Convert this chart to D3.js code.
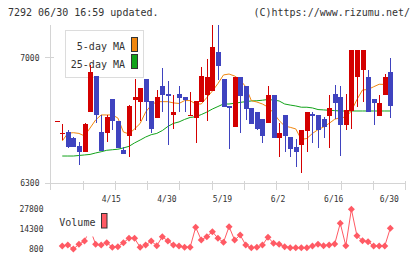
<!DOCTYPE html>
<html>
<head>
<meta charset="utf-8">
<script src="https://cdn.jsdelivr.net/npm/d3@7"></script>
<style>
  body { margin: 0; background: #fff; }
  svg { display: block; }
  text { font-family: "DejaVu Sans Mono", "Liberation Mono", monospace; fill: #333; }
</style>
</head>
<body>
<svg id="chart" width="420" height="259"></svg>
<script>
// daily candles
var open = [6650, 6580, 6585, 6550, 6510, 6475, 6695, 6900, 6585, 6580,
            6770, 6645, 6485, 6565, 6765, 6755, 6880, 6760, 6665, 6840,
            6800, 6680, 6800, 6780, 6675, 6665, 6755, 6790, 6815, 7030,
            6880, 6730, 6615, 6890, 6840, 6720, 6695, 6660, 6635, 6790,
            6555, 6680, 6560, 6500, 6515, 6590, 6685, 6680, 6660, 6675,
            6800, 6780, 6625, 6705, 6890, 6930, 6890, 6770, 6675, 6790,
            6920];
var close = [6650, 6580, 6505, 6505, 6475, 6630, 6920, 6680, 6480, 6670,
             6645, 6495, 6465, 6730, 6780, 6830, 6755, 6605, 6780, 6790,
             6785, 6695, 6775, 6765, 6680, 6760, 6900, 6890, 7060, 6955,
             6725, 6720, 6890, 6785, 6715, 6630, 6605, 6565, 6790, 6555,
             6580, 6565, 6490, 6475, 6595, 6695, 6675, 6595, 6615, 6720,
             6745, 6625, 6710, 7045, 7045, 7045, 6695, 6745, 6745, 6890,
             6730];
var high = [6650, 6630, 6595, 6560, 6530, 6635, 6960, 6900, 6680, 6680,
            6770, 6645, 6505, 6735, 6880, 6830, 6880, 6760, 6820, 6940,
            6870, 6790, 6840, 6780, 6810, 6760, 6950, 6995, 7180, 7180,
            6880, 6730, 6895, 6895, 6840, 6720, 6695, 6660, 6840, 6790,
            6635, 6680, 6560, 6545, 6595, 6695, 6695, 6680, 6670, 6790,
            6850, 6840, 6800, 7045, 7045, 7045, 6930, 6770, 6790, 6910,
            7000];
var low = [6650, 6540, 6495, 6500, 6400, 6475, 6695, 6635, 6480, 6530,
           6595, 6495, 6465, 6445, 6595, 6645, 6645, 6580, 6665, 6695,
           6515, 6605, 6695, 6695, 6675, 6525, 6755, 6645, 6815, 6875,
           6725, 6490, 6615, 6580, 6655, 6630, 6595, 6525, 6635, 6555,
           6445, 6475, 6445, 6390, 6355, 6475, 6525, 6495, 6555, 6495,
           6660, 6450, 6595, 6605, 6725, 6755, 6695, 6625, 6675, 6790,
           6665];

// moving averages as drawn
var ma5 = [null, 6536, 6579, 6582, 6578, 6564, 6608, 6653, 6681, 6681,
           6681, 6664, 6586, 6575, 6603, 6633, 6697, 6736, 6755, 6755,
           6755, 6748, 6745, 6761, 6761, 6742, 6742, 6778, 6814, 6856,
           6904, 6909, 6898, 6876, 6838, 6761, 6753, 6742, 6725, 6692,
           6650, 6619, 6612, 6603, 6544, 6550, 6578, 6599, 6614, 6634,
           6657, 6666, 6668, 6703, 6767, 6820, 6823, 6838, 6852, 6851,
           6831];
var ma25 = [null, 6452, 6452, 6452, 6455, 6458, 6461, 6469, 6476, 6484,
            6487, 6490, 6497, 6506, 6525, 6541, 6558, 6571, 6578, 6594,
            6617, 6634, 6642, 6656, 6667, 6671, 6683, 6697, 6714, 6728,
            6742, 6742, 6746, 6751, 6755, 6759, 6760, 6763, 6767, 6764,
            6759, 6742, 6736, 6731, 6724, 6724, 6720, 6711, 6709, 6707,
            6705, 6703, 6703, 6703, 6703, 6703, 6703, 6703, 6703, 6703,
            6703];

var volume = [null, 2800, 3500, 800, 4000, 6200, 14500, 4000, 3500, 5100,
              2000, 2400, 5100, 8100, 8100, 2000, 3500, 6200, 3000, 9200,
              6200, 3500, 2800, 2000, 2000, 15600, 6900, 9200, 12600, 8100,
              5400, 16000, 6900, 10300, 3500, 1700, 2000, 3500, 8800, 4700,
              4000, 2400, 1700, 1700, 1700, 1700, 2800, 4000, 3000, 3500,
              4200, 18300, 3000, 27800, 9800, 6400, 5800, 2800, 2800, 2800,
              14900];

var priceTicks = [6300, 7000];
var volTicks = [800, 14300, 27800];
var dateLabels = ["4/15", "4/30", "5/19", "6/2", "6/16", "6/30"];
var dateIdx = [10, 20, 30, 40, 50, 60];

var upColor = "#d40000", downColor = "#3f43bf";
var ma5Color = "#f0870f", ma25Color = "#12a31a";
var volColor = "#ff5a64", axisColor = "#d4d4d4";

var svg = d3.select("#chart");

var x = d3.scaleLinear().domain([0, open.length - 1]).range([56.7, 390.3]);
var y = d3.scaleLinear().domain([6300, 7000]).range([183.3, 57.7]);
var yv = d3.scaleLinear().domain([800, 27800]).range([249, 209.3]);
// plain grid ticks along the bottom, not tied to dates
var xt = d3.scaleLinear().domain([0, 11]).range([50.5, 405]);

// header texts
svg.append("text").attr("x", 8).attr("y", 16).style("font-size", "10px")
    .text("7292 06/30 16:59 updated.");
svg.append("text").attr("x", 410).attr("y", 16).attr("text-anchor", "end")
    .style("font-size", "10px").text("(C)https://www.rizumu.net/");

// axes
var axisG = svg.append("g").attr("shape-rendering", "crispEdges");
axisG.append("line").attr("x1", 50.5).attr("x2", 50.5).attr("y1", 25).attr("y2", 190)
    .attr("stroke", axisColor);
axisG.append("line").attr("x1", 50).attr("x2", xt(11)).attr("y1", y(6300)).attr("y2", y(6300))
    .attr("stroke", axisColor);
axisG.selectAll(".xtick").data(d3.range(1, 12)).enter().append("line")
    .attr("x1", d => Math.round(xt(d)) + 0.5).attr("x2", d => Math.round(xt(d)) + 0.5)
    .attr("y1", 181).attr("y2", 190).attr("stroke", axisColor);
axisG.selectAll(".ytick").data(priceTicks).enter().append("line")
    .attr("x1", 45).attr("x2", 54).attr("y1", d => y(d)).attr("y2", d => y(d))
    .attr("stroke", axisColor);

svg.selectAll(".plabel").data(priceTicks).enter().append("text")
    .attr("x", 39.5).attr("y", d => y(d) + 3).attr("text-anchor", "end")
    .style("font-size", "8px").text(d => d);

svg.selectAll(".dlabel").data(dateLabels).enter().append("text")
    .attr("x", (d, i) => x(dateIdx[i]) - 1).attr("y", 201.5).attr("text-anchor", "middle")
    .style("font-size", "8px").text(d => d);

// price legend (drawn first, candles sit over it)
var leg = svg.append("g");
leg.append("rect").attr("x", 65.5).attr("y", 30.5).attr("width", 78).attr("height", 47)
    .attr("fill", "#fff").attr("stroke", "#dcdcdc");
leg.append("text").attr("x", 125).attr("y", 50).attr("text-anchor", "end")
    .style("font-size", "10px").text("5-day MA");
leg.append("text").attr("x", 125).attr("y", 67.5).attr("text-anchor", "end")
    .style("font-size", "10px").text("25-day MA");
leg.append("rect").attr("x", 131.5).attr("y", 37.5).attr("width", 6).attr("height", 14)
    .attr("fill", ma5Color).attr("stroke", "#333");
leg.append("rect").attr("x", 131.5).attr("y", 54.5).attr("width", 6).attr("height", 14)
    .attr("fill", ma25Color).attr("stroke", "#333");

// moving averages
var maLine = d3.line().defined(d => d != null).x((d, i) => x(i)).y(d => y(d));
svg.append("path").datum(ma25).attr("d", maLine).attr("fill", "none")
    .attr("stroke", ma25Color).attr("stroke-width", 1);
svg.append("path").datum(ma5).attr("d", maLine).attr("fill", "none")
    .attr("stroke", ma5Color).attr("stroke-width", 1);

// candles
var candles = svg.append("g").attr("shape-rendering", "crispEdges")
    .selectAll("g").data(open).enter().append("g");
var col = (d, i) => close[i] >= open[i] ? upColor : downColor;
candles.append("line")
    .attr("x1", (d, i) => Math.round(x(i)) + 0.5).attr("x2", (d, i) => Math.round(x(i)) + 0.5)
    .attr("y1", (d, i) => y(high[i])).attr("y2", (d, i) => y(low[i]))
    .attr("stroke", col);
candles.append("rect")
    .attr("x", (d, i) => Math.round(x(i)) - 2)
    .attr("width", 5)
    .attr("y", (d, i) => y(Math.max(open[i], close[i])))
    .attr("height", (d, i) => Math.max(1, Math.abs(y(open[i]) - y(close[i]))))
    .attr("fill", col);

// volume
var vLine = d3.line().defined(d => d != null).x((d, i) => x(i)).y(d => yv(d));
svg.append("path").datum(volume).attr("d", vLine).attr("fill", "none")
    .attr("stroke", volColor).attr("stroke-width", 1);
svg.selectAll(".vpt").data(volume.map((v, i) => [i, v]).filter(d => d[1] != null))
    .enter().append("path")
    .attr("transform", d => "translate(" + x(d[0]) + "," + yv(d[1]) + ")")
    .attr("d", "M0,-3.5L3.5,0L0,3.5L-3.5,0Z")
    .attr("fill", volColor);

// volume legend on a white patch
svg.append("rect").attr("x", 55).attr("y", 211).attr("width", 57).attr("height", 25.5)
    .attr("fill", "#fff");
svg.append("text").attr("x", 59.3).attr("y", 226).style("font-size", "10px").text("Volume");
svg.append("rect").attr("x", 101.5).attr("y", 213.5).attr("width", 5.5).attr("height", 14.5)
    .attr("fill", volColor).attr("stroke", "#333");

svg.selectAll(".vlabel").data(volTicks).enter().append("text")
    .attr("x", 43.5).attr("y", d => yv(d) + 3).attr("text-anchor", "end")
    .style("font-size", "8px").text(d => d);
</script>
</body>
</html>
